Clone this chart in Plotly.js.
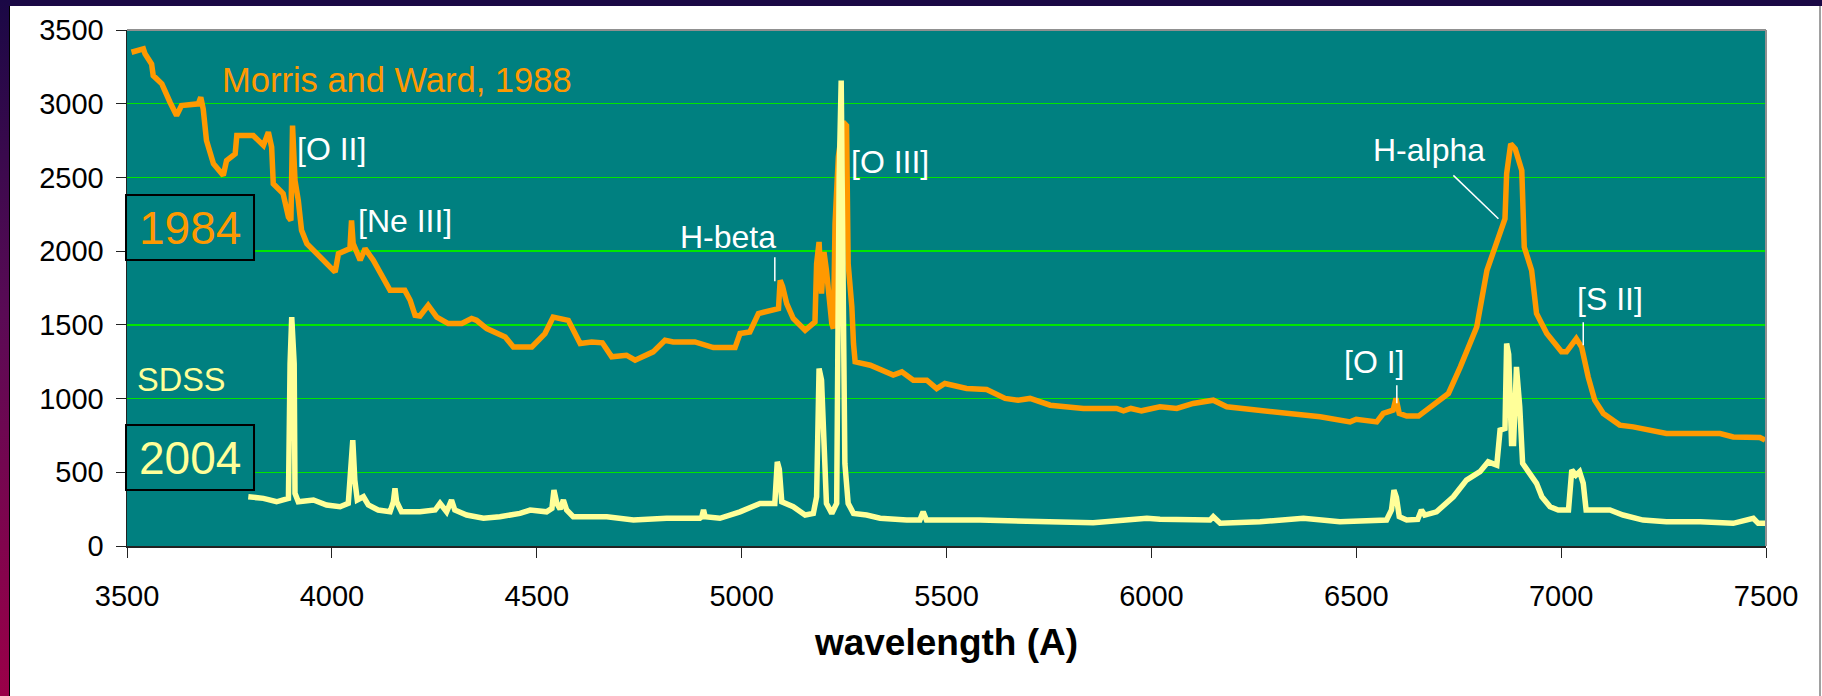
<!DOCTYPE html>
<html>
<head>
<meta charset="utf-8">
<script src="https://cdn.plot.ly/plotly-3.0.1.min.js"></script>
<style>
  html, body { margin: 0; padding: 0; width: 1822px; height: 696px; overflow: hidden; background: #ffffff; }
  #chart { position: absolute; left: 0; top: 0; width: 1822px; height: 696px; }
  .frame { position: absolute; pointer-events: none; z-index: 10; }
</style>
</head>
<body>
<div id="chart"></div>
<div class="frame" style="left:0;top:0;width:1822px;height:6px;background:#1a0845;"></div>
<div class="frame" style="left:0;top:0;width:9px;height:696px;background:linear-gradient(to bottom,#1a0845 0%,#5a0a55 45%,#9a0048 100%);"></div>
<div class="frame" style="left:9px;top:6px;width:1px;height:690px;background:#000000;"></div>
<div class="frame" style="left:1819px;top:6px;width:2px;height:690px;background:#a0a0a0;"></div>
<script>
// ---- data ----
const morrisWave = [3511,3540,3544,3560,3564,3585,3605,3621,3633,3674,3680,3686,3694,3711,3735,3743,3764,3768,3808,3833,3845,3853,3857,3881,3894,3900,3904,3910,3918,3926,3939,4008,4016,4044,4048,4052,4069,4081,4101,4142,4178,4191,4203,4215,4235,4256,4284,4317,4341,4353,4378,4423,4443,4488,4520,4540,4577,4606,4634,4660,4683,4719,4740,4784,4813,4833,4886,4931,4984,4996,5020,5041,5090,5094,5100,5110,5126,5155,5179,5183,5189,5195,5201,5207,5220,5224,5228,5236,5248,5256,5260,5269,5273,5277,5314,5370,5391,5419,5452,5476,5496,5549,5598,5643,5675,5704,5753,5801,5834,5915,5932,5950,5976,6021,6062,6102,6151,6184,6224,6265,6322,6412,6485,6500,6550,6566,6590,6597,6605,6623,6652,6689,6725,6754,6794,6819,6835,6863,6867,6877,6888,6904,6910,6928,6940,6965,7001,7013,7037,7050,7066,7082,7103,7143,7176,7217,7257,7388,7420,7485,7498];
const morrisFlux = [3349,3372,3338,3270,3191,3135,3010,2920,2988,2999,3044,2965,2751,2593,2514,2615,2660,2785,2785,2717,2807,2705,2457,2390,2231,2209,2852,2480,2344,2141,2051,1858,1983,2017,2209,2051,1938,2017,1938,1734,1734,1667,1565,1560,1633,1553,1509,1509,1543,1531,1475,1418,1350,1350,1441,1553,1531,1373,1384,1378,1283,1294,1260,1317,1396,1384,1384,1346,1346,1441,1452,1577,1610,1802,1760,1644,1543,1463,1520,1915,2062,1712,1994,1870,1509,1475,2186,2638,2875,2852,1915,1621,1373,1249,1226,1159,1181,1125,1125,1068,1102,1068,1061,1001,989,1001,955,944,933,933,917,933,917,944,933,967,989,944,933,921,899,876,842,860,842,899,921,1001,899,881,881,955,1035,1215,1486,1870,2005,2220,2525,2728,2694,2547,2028,1870,1577,1441,1317,1317,1407,1350,1147,989,899,820,808,786,763,763,740,736,718];

const sdssWave = [3796,3833,3865,3894,3898,3902,3908,3910,3918,3955,3987,4020,4040,4046,4051,4056,4062,4077,4089,4113,4142,4150,4154,4158,4170,4215,4252,4264,4280,4292,4300,4329,4370,4410,4459,4484,4524,4537,4542,4549,4557,4565,4573,4589,4671,4736,4817,4898,4903,4907,4911,4947,4996,5045,5081,5087,5092,5098,5126,5155,5175,5183,5189,5195,5201,5207,5220,5232,5238,5240,5243,5247,5252,5260,5273,5305,5338,5403,5435,5443,5451,5500,5582,5858,5989,6021,6143,6151,6168,6265,6371,6460,6574,6586,6592,6598,6605,6623,6650,6659,6667,6696,6737,6769,6802,6822,6843,6851,6863,6867,6872,6879,6884,6891,6899,6906,6924,6940,6953,6973,6993,7018,7026,7036,7045,7054,7061,7078,7119,7151,7200,7257,7340,7420,7469,7481,7498];
const sdssFlux = [334,323,300,323,1238,1553,1238,357,300,312,278,266,289,560,718,447,312,334,278,244,232,300,391,300,232,232,244,289,232,312,244,210,188,199,221,244,232,255,379,289,250,312,244,199,199,176,188,188,199,244,199,188,232,289,289,571,520,300,266,210,221,334,1204,1125,560,289,221,289,2500,3157,3157,2000,560,289,221,210,188,176,176,232,176,176,176,158,188,181,176,199,154,165,188,165,176,244,379,330,199,176,180,244,210,232,334,447,504,571,549,786,797,1373,1300,696,696,1215,944,560,493,425,334,266,244,244,515,480,504,425,244,244,244,210,176,165,165,154,188,154,154];

const xTickVals = [3500,4000,4500,5000,5500,6000,6500,7000,7500];
const yTickVals = [0,500,1000,1500,2000,2500,3000,3500];

const lineLabels = ["[O II]","[Ne III]","H-beta","[O III]","H-alpha","[O I]","[S II]"];
const labelX = [3999,4178,4967,5362,6678,6543,7119];
const labelY = [2696,2202,2094,2608,2683,1247,1673];

// label pointer segments (wavelength, flux) pairs
const pointerX0 = [5081,6599,7054,6737];
const pointerY0 = [1958,1091,1518,2514];
const pointerX1 = [5081,6599,7054,6847];
const pointerY1 = [1795,969,1362,2220];

const FONT = '"Liberation Sans", Arial, sans-serif';
const ORANGE = '#ff9900';
const YELLOW = '#ffff99';
const TEAL = '#008080';

const traces = [
  { x: morrisWave, y: morrisFlux, type: 'scatter', mode: 'lines', name: 'Morris and Ward, 1988',
    line: { color: ORANGE, width: 5.5, shape: 'linear' }, hoverinfo: 'skip' },
  { x: sdssWave, y: sdssFlux, type: 'scatter', mode: 'lines', name: 'SDSS',
    line: { color: YELLOW, width: 5.5, shape: 'linear' }, hoverinfo: 'skip' }
];

const annotations = lineLabels.map((t, i) => ({
  x: labelX[i], y: labelY[i], xref: 'x', yref: 'y', text: t, showarrow: false,
  xanchor: 'center', yanchor: 'middle', font: { family: FONT, size: 32, color: '#ffffff' }
}));
annotations.push({ x: 4159, y: 3164, xref: 'x', yref: 'y', text: 'Morris and Ward, 1988', showarrow: false,
  xanchor: 'center', yanchor: 'middle', font: { family: FONT, size: 34.5, color: ORANGE } });
annotations.push({ x: 3632, y: 1125, xref: 'x', yref: 'y', text: 'SDSS', showarrow: false,
  xanchor: 'center', yanchor: 'middle', font: { family: FONT, size: 32.5, color: YELLOW } });
annotations.push({ x: 0.0385, y: 0.617, xref: 'paper', yref: 'paper', text: '1984', showarrow: false,
  xanchor: 'center', yanchor: 'middle', font: { family: FONT, size: 46, color: ORANGE } });
annotations.push({ x: 0.0385, y: 0.1715, xref: 'paper', yref: 'paper', text: '2004', showarrow: false,
  xanchor: 'center', yanchor: 'middle', font: { family: FONT, size: 46, color: YELLOW } });

const shapes = [];
for (let i = 0; i < pointerX0.length; i++) {
  shapes.push({ type: 'line', xref: 'x', yref: 'y', x0: pointerX0[i], y0: pointerY0[i], x1: pointerX1[i], y1: pointerY1[i],
    line: { color: '#ffffff', width: 1.5 }, layer: 'above' });
}
shapes.push({ type: 'rect', xref: 'paper', yref: 'paper', x0: -0.0006, x1: 0.0775, y0: 0.5543, y1: 0.6802,
  line: { color: '#000000', width: 2 }, fillcolor: TEAL, layer: 'above' });
shapes.push({ type: 'rect', xref: 'paper', yref: 'paper', x0: -0.0006, x1: 0.0775, y0: 0.1085, y1: 0.2345,
  line: { color: '#000000', width: 2 }, fillcolor: TEAL, layer: 'above' });
// gray frame on top and right of the plot area
shapes.push({ type: 'line', xref: 'paper', yref: 'paper', x0: 0, x1: 1, y0: 1, y1: 1, line: { color: '#909090', width: 2 }, layer: 'above' });
shapes.push({ type: 'line', xref: 'paper', yref: 'paper', x0: 1, x1: 1, y0: 0, y1: 1, line: { color: '#909090', width: 2 }, layer: 'above' });

const layout = {
  width: 1822, height: 696,
  margin: { l: 127, r: 56, t: 30, b: 150, pad: 0 },
  paper_bgcolor: '#ffffff',
  plot_bgcolor: TEAL,
  showlegend: false,
  font: { family: FONT, color: '#000000' },
  xaxis: {
    range: [3500, 7500], tickmode: 'array', tickvals: xTickVals, ticktext: xTickVals.map(String),
    showgrid: false, zeroline: false, showline: true, linecolor: '#222222', linewidth: 1.5,
    ticks: 'outside', ticklen: 10, tickwidth: 1, tickcolor: '#222222', ticklabelstandoff: 14,
    tickfont: { family: FONT, size: 29, color: '#000000' },
    title: { text: '<b>wavelength (A)</b>', font: { family: FONT, size: 37, color: '#000000' }, standoff: 18 },
    automargin: false, fixedrange: true
  },
  yaxis: {
    range: [0, 3500], tickmode: 'array', tickvals: yTickVals, ticktext: yTickVals.map(String),
    showgrid: true, gridcolor: '#00e600', gridwidth: 1.5, zeroline: false,
    showline: true, linecolor: '#222222', linewidth: 1.5,
    ticks: 'outside', ticklen: 10, tickwidth: 1, tickcolor: '#222222', ticklabelstandoff: 6,
    tickfont: { family: FONT, size: 29, color: '#000000' },
    automargin: false, fixedrange: true
  },
  annotations: annotations,
  shapes: shapes
};

Plotly.newPlot('chart', traces, layout, { displayModeBar: false, staticPlot: true });
</script>
</body>
</html>
